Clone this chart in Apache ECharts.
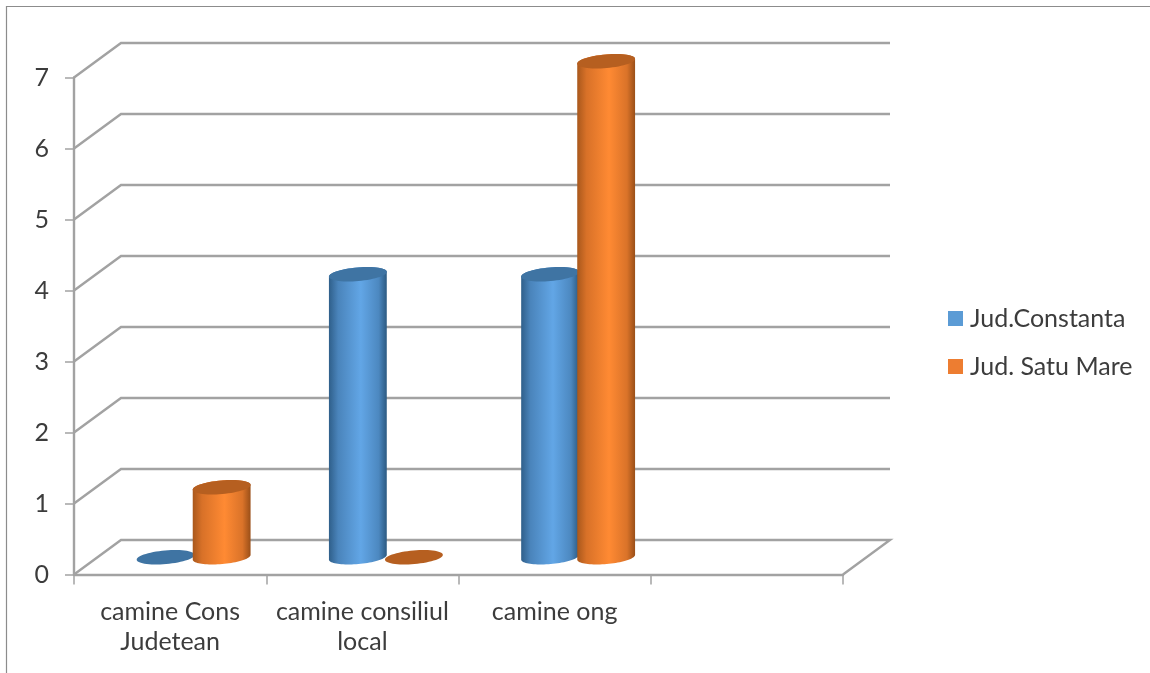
<!DOCTYPE html>
<html>
<head>
<meta charset="utf-8">
<style>
  html, body { margin: 0; padding: 0; background: #fff; }
  #chart { width: 1150px; height: 673px; }
</style>
<script src="https://cdn.jsdelivr.net/npm/echarts@6/dist/echarts.min.js"></script>
</head>
<body>
<div id="chart"></div>
<script>
// Chart values
const categories = ['camine Cons\nJudetean', 'camine consiliul\nlocal', 'camine ong', ''];
const constantaValues = [0, 4, 4];
const satuMareValues = [1, 0, 7];
const yTicks = [0, 1, 2, 3, 4, 5, 6, 7];

// Oblique projection of the box behind the axes
const depthX = 47;
const depthY = 34.5;
const lineColor = '#a2a2a2';
const textColor = '#3c3c3c';
const fontFamily = 'Lato, sans-serif';

// Cylinder shading per series
const blueShade = {
  legend: '#5b9bd5', cap: '#3f74a3',
  stops: ['#2f5f8a', '#4a84bb', '#62a6e6', '#4c88c0', '#2c5a82']
};
const orangeShade = {
  legend: '#ed7d31', cap: '#b65f20',
  stops: ['#a9581c', '#d87128', '#ff8a33', '#da7329', '#9a4f18']
};

// Points of a tilted ellipse between two angles (radians)
function ellipseArc(cx, cy, a, b, tilt, from, to, steps) {
  const pts = [];
  for (let i = 0; i <= steps; i++) {
    const t = from + (to - from) * i / steps;
    const x = a * Math.cos(t);
    const y = b * Math.sin(t);
    pts.push([
      cx + x * Math.cos(tilt) - y * Math.sin(tilt),
      cy + x * Math.sin(tilt) + y * Math.cos(tilt)
    ]);
  }
  return pts;
}

// One cylinder standing at mid depth of the box; neighbours overlap by a hair
function cylinderRenderer(side, shade) {
  return function (params, api) {
    const band = api.size([1, 0])[0];
    const a = band * 0.151;
    const b = 6.8;
    const tilt = -5 * Math.PI / 180;
    const top = api.coord([api.value(0), api.value(1)]);
    const base = api.coord([api.value(0), 0]);
    const cx = top[0] + depthX / 2 + side * (a - 1);
    const topY = top[1] - depthY / 2 + 1;
    const baseY = base[1] - depthY / 2;
    const children = [];
    if (baseY - topY > 1.5) {
      const lower = ellipseArc(cx, baseY, a, b, tilt, 0, Math.PI, 40);
      const upper = ellipseArc(cx, topY, a, b, tilt, Math.PI, 2 * Math.PI, 40);
      children.push({
        type: 'polygon',
        shape: { points: lower.concat(upper) },
        style: {
          fill: new echarts.graphic.LinearGradient(0, 0, 1, 0, [
            { offset: 0, color: shade.stops[0] },
            { offset: 0.16, color: shade.stops[1] },
            { offset: 0.55, color: shade.stops[2] },
            { offset: 0.86, color: shade.stops[3] },
            { offset: 1, color: shade.stops[4] }
          ])
        }
      });
    }
    children.push({
      type: 'polygon',
      shape: { points: ellipseArc(cx, api.value(1) === 0 ? baseY : topY, a, b, tilt, 0, 2 * Math.PI, 60) },
      style: { fill: shade.cap }
    });
    return { type: 'group', children: children };
  };
}

// Gridlines running back along the side wall and across the rear wall
function renderWallLine(params, api) {
  const cs = params.coordSys;
  const y = api.coord([0, api.value(0)])[1];
  const left = cs.x;
  const right = cs.x + cs.width;
  const points = [[left, y], [left + depthX, y - depthY], [right + depthX, y - depthY]];
  if (api.value(0) === 0) {
    points.push([right, y]);
  }
  return {
    type: 'polyline',
    shape: { points: points },
    style: { stroke: lineColor, lineWidth: 2.4, fill: null }
  };
}

const chart = echarts.init(document.getElementById('chart'));
chart.setOption({
  animation: false,
  backgroundColor: '#ffffff',
  textStyle: { fontFamily: fontFamily },
  graphic: [{
    type: 'polyline',
    shape: { points: [[6.5, 673], [6.5, 6.5], [1150, 6.5]] },
    style: { stroke: '#8c8c8c', lineWidth: 1.2, fill: null },
    silent: true
  }],
  grid: { left: 74, right: 307, top: 77.5, bottom: 98.5 },
  legend: {
    orient: 'vertical',
    left: 943,
    top: 301,
    itemWidth: 15,
    itemHeight: 15,
    itemGap: 23,
    selectedMode: false,
    icon: 'rect',
    textStyle: { color: textColor, fontSize: 25, fontFamily: fontFamily, padding: [0, 0, 0, 2] },
    data: ['Jud.Constanta', 'Jud. Satu Mare']
  },
  xAxis: {
    type: 'category',
    data: categories,
    axisLine: { lineStyle: { color: lineColor, width: 2.4 } },
    axisTick: { show: true, length: 10, lineStyle: { color: lineColor, width: 1.5 } },
    axisLabel: {
      interval: 0,
      margin: 22,
      color: textColor,
      fontSize: 25,
      lineHeight: 30,
      fontFamily: fontFamily
    },
    splitLine: { show: false }
  },
  yAxis: {
    type: 'value',
    min: 0,
    max: 7,
    interval: 1,
    axisLine: { show: true, lineStyle: { color: lineColor, width: 2.4 } },
    axisTick: { show: true, length: 9, lineStyle: { color: lineColor, width: 1.5 } },
    axisLabel: { margin: 25, color: textColor, fontSize: 25, fontFamily: fontFamily },
    splitLine: { show: false }
  },
  series: [
    {
      type: 'custom',
      name: 'walls',
      silent: true,
      clip: false,
      z: 1,
      encode: { x: -1, y: 0 },
      data: yTicks.map(v => [v]),
      renderItem: renderWallLine
    },
    {
      type: 'custom',
      name: 'Jud.Constanta',
      clip: false,
      z: 3,
      itemStyle: { color: blueShade.legend },
      encode: { x: 0, y: 1 },
      data: constantaValues.map((v, i) => [i, v]),
      renderItem: cylinderRenderer(-1, blueShade)
    },
    {
      type: 'custom',
      name: 'Jud. Satu Mare',
      clip: false,
      z: 4,
      itemStyle: { color: orangeShade.legend },
      encode: { x: 0, y: 1 },
      data: satuMareValues.map((v, i) => [i, v]),
      renderItem: cylinderRenderer(1, orangeShade)
    }
  ]
});
</script>
</body>
</html>
